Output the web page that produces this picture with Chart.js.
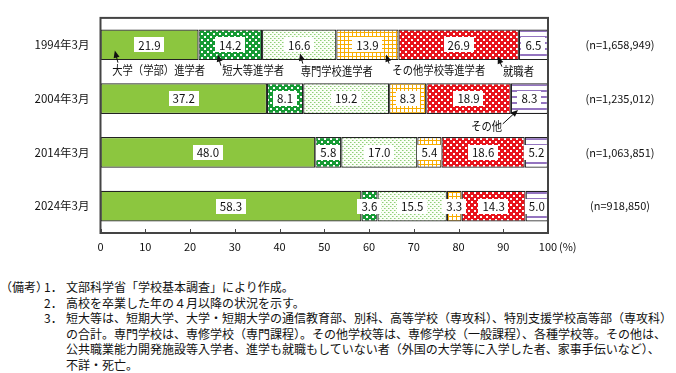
<!DOCTYPE html>
<html><head><meta charset="utf-8">
<script src="https://cdn.jsdelivr.net/npm/chart.js@4"></script>
<style>
html,body{margin:0;padding:0;background:#fff;width:676px;height:373px;overflow:hidden;}
#wrap{position:absolute;left:0;top:0;width:676px;height:260px;}
#notes{position:absolute;left:0;top:279px;width:676px;font-family:"Noto Sans CJK JP",sans-serif;font-size:12px;line-height:15.6px;color:#111;white-space:nowrap;}
#notes .ln{position:relative;height:15.6px;}
#notes span{position:absolute;top:0;}
</style></head>
<body>
<div id="wrap"><canvas id="c" width="676" height="260"></canvas></div>
<div id="notes">
 <div class="ln"><span style="left:0">（備考）</span><span style="left:44px">1．</span><span style="left:66px">文部科学省「学校基本調査」により作成。</span></div>
 <div class="ln"><span style="left:44px">2．</span><span style="left:66px">高校を卒業した年の４月以降の状況を示す。</span></div>
 <div class="ln"><span style="left:44px">3．</span><span style="left:66px">短大等は、短期大学、大学・短期大学の通信教育部、別科、高等学校（専攻科）、特別支援学校高等部（専攻科）</span></div>
 <div class="ln"><span style="left:66px">の合計。専門学校は、専修学校（専門課程）。その他学校等は、専修学校（一般課程）、各種学校等。その他は、</span></div>
 <div class="ln"><span style="left:66px">公共職業能力開発施設等入学者、進学も就職もしていない者（外国の大学等に入学した者、家事手伝いなど）、</span></div>
 <div class="ln"><span style="left:66px">不詳・死亡。</span></div>
</div>
<script>
// ---- data ----
const categories = ['1994年3月', '2004年3月', '2014年3月', '2024年3月'];
const sampleSizes = ['(n=1,658,949)', '(n=1,235,012)', '(n=1,063,851)', '(n=918,850)'];
const seriesNames = ['大学（学部）進学者', '短大等進学者', '専門学校進学者', 'その他学校等進学者', '就職者', 'その他'];
const univ      = [21.9, 37.2, 48.0, 58.3];
const junior    = [14.2, 8.1, 5.8, 3.6];
const vocational= [16.6, 19.2, 17.0, 15.5];
const otherSch  = [13.9, 8.3, 5.4, 3.3];
const employed  = [26.9, 18.9, 18.6, 14.3];
const others    = [6.5, 8.3, 5.2, 5.0];
const xTicks = [0,10,20,30,40,50,60,70,80,90,100];

// ---- patterns ----
function makePattern(w, h, bg, draw) {
  const c = document.createElement('canvas'); c.width = w; c.height = h;
  const g = c.getContext('2d');
  g.fillStyle = bg; g.fillRect(0, 0, w, h);
  draw(g);
  return document.getElementById('c').getContext('2d').createPattern(c, 'repeat');
}
const fills = [
  '#8cc63f',
  makePattern(6, 6, '#169a34', g => { g.fillStyle = '#fff'; g.fillRect(0,0,2,2); g.fillRect(3,3,2,2); }),
  makePattern(4, 4, '#fafff6', g => { g.fillStyle = '#8fcf78'; g.fillRect(0,0,1,1); g.fillRect(2,2,1,1); g.fillStyle='#c4e6b4'; g.fillRect(1,0,1,1); g.fillRect(3,2,1,1);}),
  makePattern(4, 4, '#ffffff', g => { g.fillStyle = '#f9ad00'; g.fillRect(0,0,4,1); g.fillRect(0,0,1,4); }),
  makePattern(6, 6, '#e8141c', g => { g.fillStyle = '#fff'; g.fillRect(0,0,2,2); g.fillRect(3,3,2,2); }),
  makePattern(2, 6, '#ffffff', g => { g.fillStyle = '#9474c0'; g.fillRect(0,0,2,2); })
];
const seriesData = [univ, junior, vocational, otherSch, employed, others];

// annotations: x positions expressed in axis units, y offsets relative to bar bottom
const notes = [
  {row:0, text:seriesNames[0], textX:13.0, textDy:10.5, tailX:3.9, tailDy:2.5, tipX:3.2, tipDy:-9.5},
  {row:0, text:seriesNames[1], textX:34.1, textDy:10.5, tailX:26.9, tailDy:5.5, tipX:26.2, tipDy:-5.5},
  {row:0, text:seriesNames[2], textX:52.8, textDy:11, tailX:45.2, tailDy:3.5, tipX:44.6, tipDy:-6.5},
  {row:0, text:seriesNames[3], textX:75.6, textDy:10.5, tailX:64.5, tailDy:3.5, tipX:63.8, tipDy:-5.5},
  {row:0, text:seriesNames[4], textX:93.4, textDy:11, tailX:89.7, tailDy:6.5, tipX:88.8, tipDy:-3.5},
  {row:1, text:seriesNames[5], textX:86.3, textDy:13, tailX:89.9, tailDy:10, tipX:93.3, tipDy:-4}
];

const JP = '"Noto Sans CJK JP", sans-serif';

const decor = {
  id: 'decor',
  afterDatasetsDraw(chart) {
    const ctx = chart.ctx, xs = chart.scales.x, a = chart.chartArea;
    ctx.save();
    // value labels
    ctx.font = '11.5px ' + JP;
    ctx.textAlign = 'center'; ctx.textBaseline = 'middle';
    chart.data.datasets.forEach((ds, i) => {
      chart.getDatasetMeta(i).data.forEach((bar, j) => {
        const cx = (bar.x + bar.base) / 2, cy = bar.y;
        const t = ds.data[j].toFixed(1);
        const w = ctx.measureText(t).width + 8;
        ctx.fillStyle = '#fff';
        ctx.fillRect(Math.round(cx - w/2), Math.round(cy - 7.5), Math.round(w), 15);
        ctx.fillStyle = '#111';
        ctx.fillText(t, cx, cy + 0.5);
      });
    });
    // frame
    ctx.strokeStyle = '#444'; ctx.lineWidth = 2;
    ctx.strokeRect(a.left, a.top, a.right - a.left, a.bottom - a.top);
    // inner ticks
    ctx.lineWidth = 1;
    xTicks.forEach(v => {
      const x = Math.round(xs.getPixelForValue(v)) + 0.5;
      ctx.beginPath(); ctx.moveTo(x, a.bottom); ctx.lineTo(x, a.bottom - 4); ctx.stroke();
    });
    // (%) label
    ctx.fillStyle = '#111'; ctx.font = '11px ' + JP; ctx.textAlign = 'left';
    ctx.fillText('(%)', xs.getPixelForValue(100) + 11, a.bottom + 14);
    // n labels
    ctx.textAlign = 'center';
    const meta0 = chart.getDatasetMeta(0);
    sampleSizes.forEach((s, j) => {
      ctx.fillText(s, 620, meta0.data[j].y);
    });
    // annotations
    ctx.fillStyle = '#111'; ctx.strokeStyle = '#111';
    notes.forEach(n => {
      const bar = meta0.data[n.row];
      const bottom = bar.y + bar.height / 2;
      const tx = xs.getPixelForValue(n.textX);
      ctx.save();
      ctx.translate(tx, bottom + n.textDy);
      ctx.scale(0.86, 1);
      ctx.font = '12px ' + JP;
      ctx.textAlign = 'center'; ctx.textBaseline = 'middle';
      ctx.fillText(n.text, 0, 0);
      ctx.restore();
      const x0 = xs.getPixelForValue(n.tailX), y0 = bottom + n.tailDy;
      const x1 = xs.getPixelForValue(n.tipX), y1 = bottom + n.tipDy;
      const ang = Math.atan2(y1 - y0, x1 - x0);
      const L = 7, W = 3;
      ctx.lineWidth = 1;
      ctx.beginPath(); ctx.moveTo(x0, y0);
      ctx.lineTo(x1 - Math.cos(ang)*L*0.8, y1 - Math.sin(ang)*L*0.8); ctx.stroke();
      ctx.beginPath();
      ctx.moveTo(x1, y1);
      ctx.lineTo(x1 - Math.cos(ang)*L + Math.sin(ang)*W, y1 - Math.sin(ang)*L - Math.cos(ang)*W);
      ctx.lineTo(x1 - Math.cos(ang)*L - Math.sin(ang)*W, y1 - Math.sin(ang)*L + Math.cos(ang)*W);
      ctx.closePath(); ctx.fill();
    });
    ctx.restore();
  }
};

new Chart(document.getElementById('c'), {
  type: 'bar',
  data: {
    labels: categories,
    datasets: seriesData.map((d, i) => ({
      label: seriesNames[i], data: d, backgroundColor: fills[i],
      borderColor: '#222', borderWidth: 1.2, borderSkipped: false,
      barPercentage: 1, categoryPercentage: 0.57
    }))
  },
  options: {
    indexAxis: 'y', responsive: false, animation: false,
    layout: { padding: { left: 0, right: 128, top: 1, bottom: 0 } },
    plugins: { legend: { display: false }, tooltip: { enabled: false } },
    scales: {
      x: {
        stacked: true, min: 0, max: 100,
        afterBuildTicks: s => { s.ticks = xTicks.map(v => ({ value: v })); },
        afterFit: s => { s.height = 27; },
        grid: { display: false, drawTicks: false },
        border: { display: false },
        ticks: { padding: 7, color: '#111', font: { family: JP, size: 11 }, maxRotation: 0, autoSkip: false }
      },
      y: {
        stacked: true,
        afterFit: s => { s.width = 100.5; },
        grid: { display: false, drawTicks: false },
        border: { display: false },
        ticks: { padding: 11, color: '#111', font: { family: JP, size: 11.5 } }
      }
    }
  },
  plugins: [decor]
});
</script>
</body></html>
